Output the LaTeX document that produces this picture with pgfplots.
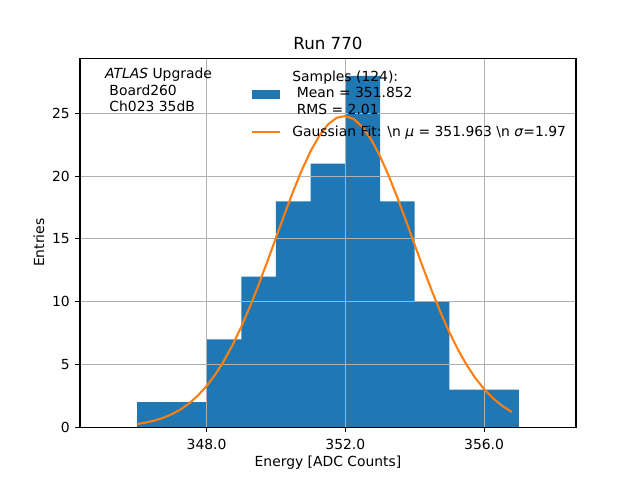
\documentclass[border=0pt]{standalone}
\usepackage{fontspec}
\setmainfont{DejaVu Sans}
\usepackage{pgfplots}
\pgfplotsset{compat=1.18}
\definecolor{c0}{HTML}{1F77B4}
\definecolor{c1}{HTML}{FF7F0E}
\definecolor{gridgray}{HTML}{B0B0B0}
\tikzset{legtxt/.style={text height=8.4pt, text depth=3.6pt, inner sep=0pt}}
\begin{document}
\begin{tikzpicture}
\begin{axis}[
  name=ax,
  set layers,
  at={(57.6pt,38.016pt)}, anchor=south west,
  scale only axis, width=357.12pt, height=265.68pt,
  xmin=344.35, xmax=358.65, ymin=0, ymax=29.4,
  xtick={348,352,356}, ytick={0,5,10,15,20,25},
  /pgf/number format/assume math mode=true,
  xticklabel style={/pgf/number format/fixed, /pgf/number format/fixed zerofill, /pgf/number format/precision=1, inner sep=0pt},
  yticklabel style={inner sep=0pt},
  xticklabel shift=5.1pt, yticklabel shift=3.7pt,
  grid=major, major grid style={color=gridgray, line width=0.8pt},
  axis line style={line width=0.8pt, black},
  tick style={line width=0.8pt, black},
  major tick length=3.5pt, tick align=outside, tick pos=left,
  title={Run 770},
  title style={at={(0.5,1)}, anchor=base, inner sep=0pt, font=\fontsize{12}{14.4}\selectfont},
  xlabel={Energy [ADC Counts]},
  xlabel style={at={(axis description cs:0.5,0)}, anchor=base, yshift=-28.5pt, inner sep=0pt},
  legend style={at={(0.3448,0.9694)}, anchor=north west, draw=none, fill=none, inner sep=0pt, outer sep=0pt, row sep=0pt, column sep=8.1pt},
  legend cell align=left,
]
\addlegendimage{empty legend}
\addlegendentry[legtxt]{Samples (124):}
\addplot[on layer=axis background, fill=c0, draw=none, const plot,
  legend image code/.code={\fill[c0] (0pt,-3.4pt) rectangle (20.2pt,3.4pt);}]
  coordinates {(346,2) (347,2) (348,7) (349,12) (350,18) (351,21) (352,28) (353,18) (354,10) (355,3) (356,3) (357,3)} \closedcycle;
\addlegendentry[legtxt]{~Mean = 351.852}
\addlegendimage{empty legend}
\addlegendentry[legtxt, text depth=7.4pt]{~RMS = 2.01}
\addplot[color=c1, line width=1.5pt,
  legend image code/.code={\draw[c1, line width=1.5pt] (0pt,1pt) -- (20.2pt,1pt);}]
  coordinates {
(346.00,0.254) (346.25,0.370) (346.50,0.530) (346.75,0.748)
(347.00,1.038) (347.25,1.418) (347.50,1.905) (347.75,2.520)
(348.00,3.278) (348.25,4.198) (348.50,5.290) (348.75,6.559)
(349.00,8.002) (349.25,9.608) (349.50,11.350) (349.75,13.196)
(350.00,15.096) (350.25,16.993) (350.50,18.823) (350.75,20.517)
(351.00,22.007) (351.25,23.228) (351.50,24.124) (351.75,24.655)
(352.00,24.796) (352.25,24.538) (352.50,23.896) (352.75,22.898)
(353.00,21.591) (353.25,20.034) (353.50,18.291) (353.75,16.434)
(354.00,14.531) (354.25,12.641) (354.50,10.822) (354.75,9.117)
(355.00,7.558) (355.25,6.165) (355.50,4.948) (355.75,3.908)
(356.00,3.037) (356.25,2.323) (356.50,1.749) (356.75,1.295)
(356.80,1.217)};
\addlegendentry[legtxt]{Gaussian Fit: \textbackslash n \textit{μ} = 351.963 \textbackslash n \textit{σ}=1.97}
\node[anchor=base west, inner sep=0pt] at (rel axis cs:0.05,0.945) {\textit{ATLAS} Upgrade};
\node[anchor=base west, inner sep=0pt, yshift=-12pt] at (rel axis cs:0.05,0.945) {~Board260};
\node[anchor=base west, inner sep=0pt, yshift=-24pt] at (rel axis cs:0.05,0.945) {~Ch023 35dB};
\end{axis}
\node[xshift=-25.9pt, rotate=90, anchor=base, inner sep=0pt] at (ax.west) {Entries};
\path (0,0) rectangle (460.8pt,345.6pt);
\end{tikzpicture}
\end{document}
